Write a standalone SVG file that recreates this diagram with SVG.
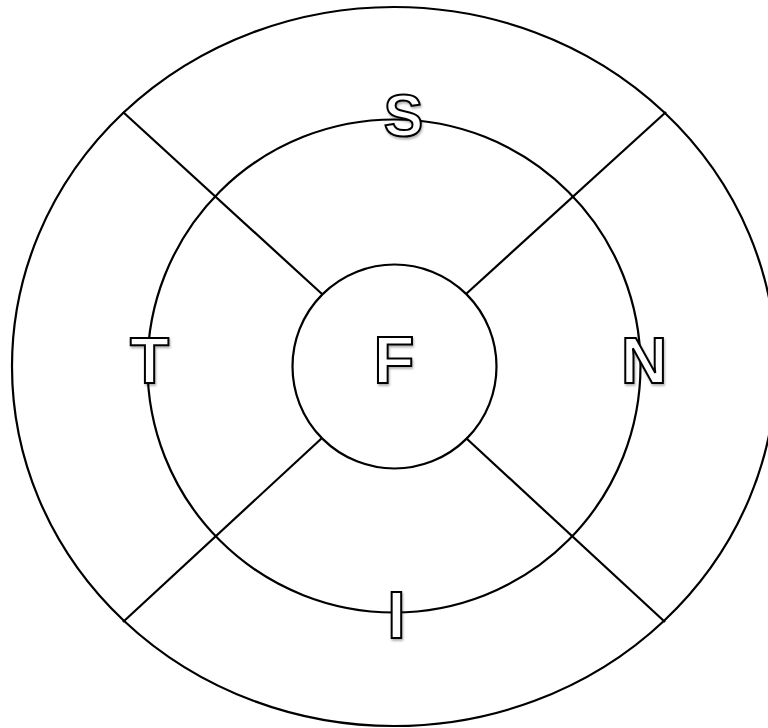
<svg xmlns="http://www.w3.org/2000/svg" width="768" height="728" viewBox="0 0 768 728">
<defs>
<style>
.ring{fill:none;stroke:#000;stroke-width:2.2}
.div{stroke:#000;stroke-width:2.2;fill:none}
.lbl{font-family:"Liberation Sans",Arial,sans-serif;font-weight:bold;fill:#fff;stroke:#000;stroke-width:2;text-anchor:middle;filter:url(#sh)}
</style>
<filter id="sh" x="-20%" y="-20%" width="140%" height="140%">
<feDropShadow dx="1" dy="2" stdDeviation="1.2" flood-color="#000" flood-opacity="0.3"/>
</filter>
</defs>
<rect width="768" height="728" fill="#fff"/>
<g id="outer"><ellipse class="ring" cx="394" cy="366.5" rx="382" ry="359.5"/></g>
<g id="middle"><circle class="ring" cx="394" cy="366" r="246.5"/></g>
<g id="connectors">
<line class="div" x1="123" y1="112" x2="322" y2="294"/>
<line class="div" x1="666" y1="112" x2="466" y2="294"/>
<line class="div" x1="123" y1="622" x2="322" y2="438"/>
<line class="div" x1="665" y1="622" x2="466" y2="438"/>
</g>
<g id="fovea"><circle class="ring" cx="394.5" cy="366.5" r="102"/></g>
<g id="label-S"><text class="lbl" x="403.5" y="136" font-size="59">S</text></g>
<g id="label-T"><text class="lbl" x="149.5" y="383" font-size="64">T</text></g>
<g id="label-F"><text class="lbl" x="394" y="383" font-size="67">F</text></g>
<g id="label-N"><text class="lbl" x="644" y="383" font-size="64">N</text></g>
<g id="label-I"><text class="lbl" x="396.5" y="638" font-size="66">I</text></g>
</svg>
